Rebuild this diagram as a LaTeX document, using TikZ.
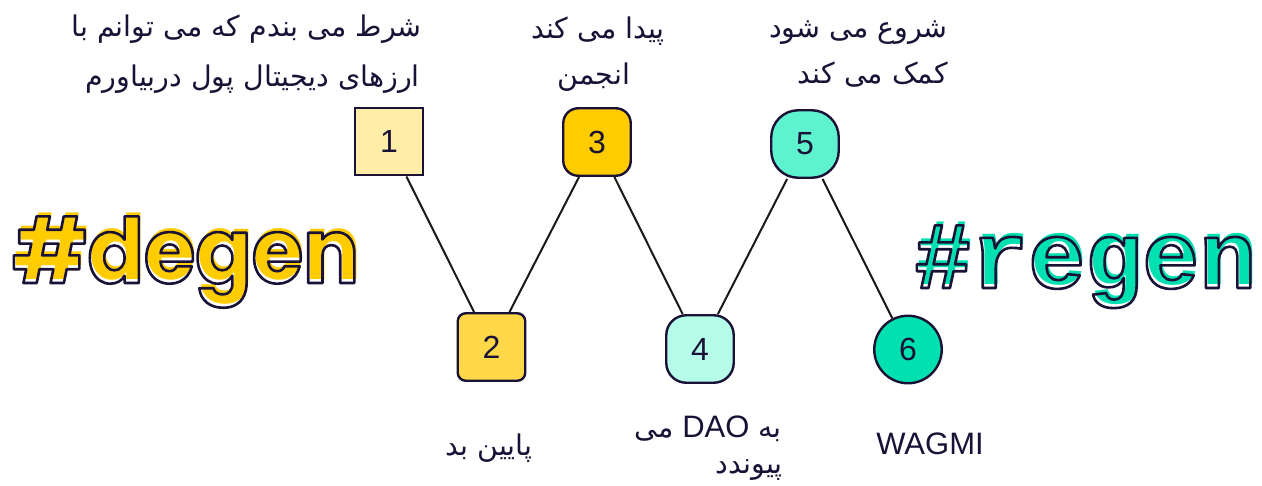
\documentclass[tikz,border=0pt]{standalone}
\usepackage{fontspec}
\setmainfont{Liberation Sans}
\newfontfamily\arabicfont[Script=Arabic]{DejaVu Sans}
\newfontfamily\degenfont{Poppins}[FakeStretch=0.925]
\newfontfamily\regenfont{Liberation Mono}
\newfontfamily\daofont{Liberation Sans}
\TeXXeTstate=1
\definecolor{dark}{HTML}{1A1236}
\definecolor{cone}{HTML}{FFEDA8}
\definecolor{ctwo}{HTML}{FFD84A}
\definecolor{cthree}{HTML}{FFCC00}
\definecolor{cfour}{HTML}{B5FCE9}
\definecolor{cfive}{HTML}{5EF2CE}
\definecolor{csix}{HTML}{00E0B0}
\definecolor{degenY}{HTML}{FFCC00}
\definecolor{regenG}{HTML}{00E0B0}
\newcommand\strokeon{\special{pdf:literal direct 1 Tr 2.6 w 1 j}}
\newcommand\strokeoff{\special{pdf:literal direct 0 Tr}}
\newcommand\shadowtext[2]{\makebox[0pt][l]{\hspace{2pt}\raisebox{4pt}{\textcolor{#1}{#2}}}\strokeon#2\strokeoff}
\begin{document}
\begin{tikzpicture}[x=1pt,y=-1pt,
  numbox/.style={draw=dark, line width=2.4pt, minimum size=67.5pt, inner sep=0pt,
    text=dark, font=\fontsize{32}{32}\selectfont},
  conn/.style={draw=black!90, line width=2pt},
  lbl/.style={text=dark, inner sep=0pt, font=\arabicfont\fontsize{28.5}{28.5}\selectfont},
  latinlbl/.style={text=dark, inner sep=0pt, font=\fontsize{31}{31}\selectfont},
  degenstyle/.style={inner sep=0pt, anchor=base west, font=\degenfont\bfseries\fontsize{90}{90}\selectfont},
  regenstyle/.style={inner sep=0pt, anchor=base west, font=\regenfont\bfseries\fontsize{95}{95}\selectfont}]
\fill[white] (0,0) rectangle (1262,485);
\path[use as bounding box] (0,0) rectangle (1262,485);

% hashtags
\node[degenstyle, text=dark] (degen) at (12,283) {\shadowtext{degenY}{\#degen}};
\node[regenstyle, text=dark] (regen) at (914,288) {\shadowtext{regenG}{\#regen}};

% boxes
\node[numbox, fill=cone] (b1) at (389,141.5) {1};
\node[numbox, fill=ctwo, rounded corners=8pt] (b2) at (491.5,347) {2};
\node[numbox, fill=cthree, rounded corners=15pt] (b3) at (597,142) {3};
\node[numbox, fill=cfour, rounded corners=20pt] (b4) at (700,349) {4};
\node[numbox, fill=cfive, rounded corners=27pt] (b5) at (805,144) {5};
\node[numbox, fill=csix, circle] (b6) at (908,349.5) {6};

% connectors
\draw[conn] (b1) -- (b2);
\draw[conn] (b2) -- (b3);
\draw[conn] (b3) -- (b4);
\draw[conn] (b4) -- (b5);
\draw[conn] (b5) -- (b6);

% labels
\node[lbl, anchor=base east] (l1a) at (422,36) {\beginR شرط می بندم که می توانم با\endR};
\node[lbl, anchor=base east] (l1b) at (420,86) {\beginR ارزهای دیجیتال پول دربیاورم\endR};
\node[lbl, anchor=base] (l3a) at (598,38) {\beginR پیدا می کند\endR};
\node[lbl, anchor=base] (l3b) at (594,84) {\beginR انجمن\endR};
\node[lbl, anchor=base east] (l5a) at (948,37) {\beginR شروع می شود\endR};
\node[lbl, anchor=base east] (l5b) at (948,83) {\beginR کمک می کند\endR};
\node[lbl, anchor=base] (l2) at (489,455) {\beginR پایین بد\endR};
\node[lbl, anchor=base east] (l4a) at (782,437) {\beginR به \beginL{\daofont\fontsize{31}{31}\selectfont DAO}\endL{} می\endR};
\node[lbl, anchor=base east] (l4b) at (783,473) {\beginR پیوندد\endR};
\node[latinlbl, anchor=base] (l6) at (930,454) {WAGMI};
\end{tikzpicture}
\end{document}
